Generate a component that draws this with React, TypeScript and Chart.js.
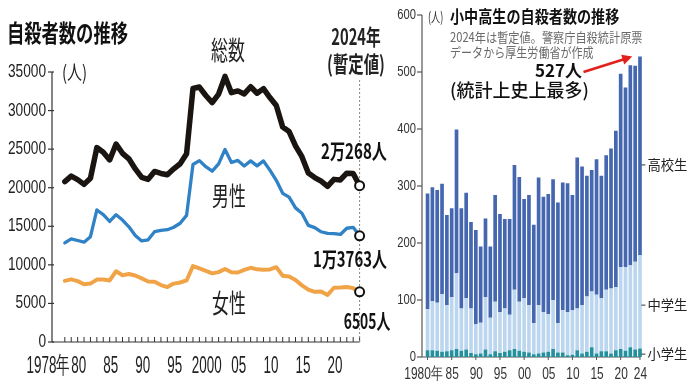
import React, { useEffect, useRef } from 'react';
import { Chart, registerables } from 'chart.js';
Chart.register(...registerables);

// ---------- Left chart data (自殺者数の推移) ----------
const YEARS_L = [1978,1979,1980,1981,1982,1983,1984,1985,1986,1987,1988,1989,1990,1991,1992,1993,1994,1995,1996,1997,1998,1999,2000,2001,2002,2003,2004,2005,2006,2007,2008,2009,2010,2011,2012,2013,2014,2015,2016,2017,2018,2019,2020,2021,2022,2023,2024];
const TOTAL = [20788,21503,21048,20434,21228,25202,24596,23599,25667,24460,23742,22436,21346,21084,22104,21851,21679,22445,23104,24391,32863,33048,31957,31042,32143,34427,32325,32552,32155,33093,32249,32845,31690,30651,27858,27283,25427,24025,21897,21321,20840,20169,21081,21007,21881,21837,20268];
const MALE = [12860,13380,13155,12940,13654,17116,16508,15624,16497,15802,14934,13818,13102,13242,14296,14468,14560,14874,15393,16416,23013,23512,22727,22144,23080,24963,23272,23540,22813,23478,22831,23472,22283,20955,19273,18787,17386,16681,15121,14826,14290,14078,14055,13939,14746,14862,13763];
const FEMALE = [7930,8120,7890,7490,7570,8090,8090,7980,9170,8660,8810,8620,8240,7840,7810,7380,7120,7570,7710,7980,9850,9540,9230,8900,9060,9460,9050,9010,9340,9620,9420,9370,9410,9700,8590,8500,8040,7340,6780,6500,6550,6090,7030,7070,7140,6980,6505];
const Y_TICKS_L = [0,5000,10000,15000,20000,25000,30000,35000];
const X_TICK_YEARS_L = [1978,1980,1985,1990,1995,2000,2005,2010,2015,2020];
const X_TICK_TEXT_L = ['1978年','80','85','90','95','2000','05','10','15','20'];

// ---------- Right chart data (小中高生の自殺者数の推移) ----------
const YEARS_R = [1980,1981,1982,1983,1984,1985,1986,1987,1988,1989,1990,1991,1992,1993,1994,1995,1996,1997,1998,1999,2000,2001,2002,2003,2004,2005,2006,2007,2008,2009,2010,2011,2012,2013,2014,2015,2016,2017,2018,2019,2020,2021,2022,2023,2024];
const ELEMENTARY = [12,12,11,9,10,12,14,11,13,7,5,6,13,5,10,7,9,12,14,11,9,8,5,6,8,9,14,8,8,3,4,12,6,9,17,6,10,10,6,12,14,11,17,13,15];
const JUNIOR = [72,86,84,101,81,93,133,74,90,78,53,54,92,64,87,72,76,62,104,86,94,83,54,85,71,66,86,51,74,76,78,73,85,97,98,103,93,108,114,111,144,147,144,154,164];
const HIGH = [203,200,198,194,158,156,252,176,185,152,165,134,138,125,187,172,157,168,219,219,174,193,173,224,202,211,212,212,224,226,202,265,243,212,213,238,215,236,246,274,339,315,351,344,348];
const Y_TICKS_R = [0,100,200,300,400,500,600];
const X_TICK_YEARS_R = [1980,1985,1990,1995,2000,2005,2010,2015,2020,2024];
const X_TICK_TEXT_R = ['1980年','85','90','95','00','05','10','15','20','24'];

const JP = '"Noto Sans CJK JP", "Noto Sans", sans-serif';
const NUM = '"Liberation Sans", "DejaVu Sans", sans-serif';

type TOpts = { weight?: string; color?: string; align?: CanvasTextAlign; sx?: number; family?: string };
function drawText(ctx: CanvasRenderingContext2D, s: string, x: number, y: number, size: number, o: TOpts = {}) {
  const { weight = 'normal', color = '#1a1a1a', align = 'left', sx = 1, family = JP } = o;
  ctx.save();
  ctx.font = `${weight} ${size}px ${family}`;
  ctx.fillStyle = color;
  ctx.textAlign = align;
  ctx.textBaseline = 'middle';
  ctx.translate(x, y);
  ctx.scale(sx, 1);
  ctx.fillText(s, 0, 0);
  ctx.restore();
}
function seg(ctx: CanvasRenderingContext2D, x1: number, y1: number, x2: number, y2: number) {
  ctx.beginPath();
  ctx.moveTo(x1, y1);
  ctx.lineTo(x2, y2);
  ctx.stroke();
}

const leftDecor = {
  id: 'leftDecor',
  beforeDatasetsDraw(chart: any) {
    const { ctx, chartArea: ca, scales } = chart;
    const x = scales.x, y = scales.y;
    ctx.save();
    ctx.strokeStyle = '#333';
    ctx.lineWidth = 1.2;
    const yTop = y.getPixelForValue(Y_TICKS_L[Y_TICKS_L.length - 1]);
    seg(ctx, ca.left, yTop, ca.left, ca.bottom);
    Y_TICKS_L.forEach((v) => {
      const py = y.getPixelForValue(v);
      seg(ctx, ca.left - 4, py, ca.left + 2, py);
      drawText(ctx, String(v), ca.left - 6, py, 18, { family: NUM, align: 'right', sx: 0.76, color: '#222' });
    });
    const xEnd = x.getPixelForValue(YEARS_L[YEARS_L.length - 1]);
    seg(ctx, ca.left, ca.bottom, xEnd, ca.bottom);
    ctx.lineWidth = 1;
    YEARS_L.forEach((yr) => {
      const px = x.getPixelForValue(yr);
      seg(ctx, px, ca.bottom, px, ca.bottom - 5);
    });
    X_TICK_YEARS_L.forEach((yr, i) => {
      const px = x.getPixelForValue(yr);
      if (i === 0) drawText(ctx, X_TICK_TEXT_L[i], px + 5, 366, 24, { family: NUM, align: 'right', sx: 0.56, color: '#222' });
      else drawText(ctx, X_TICK_TEXT_L[i], px + 1, 366, 24, { family: NUM, align: 'center', sx: 0.56, color: '#222' });
    });
    // dotted line at 2024
    ctx.strokeStyle = '#888';
    ctx.setLineDash([2, 2]);
    seg(ctx, xEnd, 80, xEnd, ca.bottom);
    ctx.setLineDash([]);
    ctx.restore();
  },
  afterDatasetsDraw(chart: any) {
    const { ctx } = chart;
    drawText(ctx, '自殺者数の推移', 7, 33, 24, { weight: 'bold', sx: 0.72, color: '#111' });
    drawText(ctx, '(人)', 62, 72, 20, { sx: 0.75, color: '#222' });
    drawText(ctx, '総数', 228, 50, 26, { align: 'center', sx: 0.65, color: '#222' });
    drawText(ctx, '2024年', 356, 37, 22, { align: 'center', sx: 0.67, weight: 'bold', color: '#222' });
    drawText(ctx, '(暫定値)', 356, 64, 22, { align: 'center', sx: 0.7, weight: 'bold', color: '#222' });
    drawText(ctx, '2万268人', 354, 151, 21, { align: 'center', sx: 0.72, weight: 'bold', color: '#111' });
    drawText(ctx, '男性', 229, 196, 26, { align: 'center', sx: 0.65, color: '#222' });
    drawText(ctx, '1万3763人', 350, 259, 21, { align: 'center', sx: 0.71, weight: 'bold', color: '#111' });
    drawText(ctx, '女性', 229, 303, 26, { align: 'center', sx: 0.65, color: '#222' });
    drawText(ctx, '6505人', 367, 321, 21, { align: 'center', sx: 0.66, weight: 'bold', color: '#111' });
  },
};

const rightDecor = {
  id: 'rightDecor',
  beforeDatasetsDraw(chart: any) {
    const { ctx, chartArea: ca, scales } = chart;
    const x = scales.x, y = scales.y;
    ctx.save();
    ctx.strokeStyle = '#555';
    ctx.lineWidth = 1.2;
    seg(ctx, ca.left, y.getPixelForValue(600), ca.left, ca.bottom);
    Y_TICKS_R.forEach((v) => {
      const py = y.getPixelForValue(v);
      seg(ctx, ca.left - 5, py, ca.left, py);
      drawText(ctx, String(v), ca.left - 6, py, 14, { family: NUM, align: 'right', sx: 0.8, color: '#333' });
    });
    ctx.lineWidth = 1;
    seg(ctx, ca.left, ca.bottom, ca.right - 2, ca.bottom);
    X_TICK_YEARS_R.forEach((yr, i) => {
      const px = x.getPixelForValue(yr);
      seg(ctx, px, ca.bottom, px, ca.bottom + 3);
      drawText(ctx, X_TICK_TEXT_R[i], i === 0 ? px - 4 : px + 0.5, 374, 17, { family: NUM, align: 'center', sx: 0.7, color: '#333' });
    });
    ctx.restore();
  },
  afterDatasetsDraw(chart: any) {
    const { ctx, chartArea: ca, scales } = chart;
    const x = scales.x, y = scales.y;
    drawText(ctx, '(人)', 38, 17, 14, { sx: 0.65, color: '#333' });
    drawText(ctx, '小中高生の自殺者数の推移', 60, 17, 17, { weight: 'bold', sx: 0.83, color: '#111' });
    drawText(ctx, '2024年は暫定値。警察庁自殺統計原票', 60, 37.5, 13, { sx: 0.86, color: '#6a6a6a' });
    drawText(ctx, 'データから厚生労働省が作成', 60, 52, 13, { sx: 0.85, color: '#6a6a6a' });
    drawText(ctx, '527人', 192, 71, 17, { weight: 'bold', align: 'right', color: '#111' });
    drawText(ctx, '(統計上史上最多)', 60, 90, 18, { weight: '500', color: '#111' });
    // red arrow
    const x0 = x.getPixelForValue(2012.3), y0 = y.getPixelForValue(500);
    const x1 = x.getPixelForValue(2022.4), y1 = y.getPixelForValue(527);
    const ang = Math.atan2(y1 - y0, x1 - x0);
    ctx.save();
    ctx.strokeStyle = '#e3211c';
    ctx.fillStyle = '#e3211c';
    ctx.lineWidth = 2.6;
    seg(ctx, x0, y0, x1 - 7 * Math.cos(ang), y1 - 7 * Math.sin(ang));
    ctx.beginPath();
    ctx.moveTo(x1, y1);
    ctx.lineTo(x1 - 10 * Math.cos(ang) + 5 * Math.sin(ang), y1 - 10 * Math.sin(ang) - 5 * Math.cos(ang));
    ctx.lineTo(x1 - 10 * Math.cos(ang) - 5 * Math.sin(ang), y1 - 10 * Math.sin(ang) + 5 * Math.cos(ang));
    ctx.closePath();
    ctx.fill();
    ctx.restore();
    // side labels
    const side: [string, number][] = [['高校生', 337], ['中学生', 91], ['小学生', 5]];
    ctx.save();
    ctx.strokeStyle = '#333';
    ctx.lineWidth = 1;
    side.forEach(([t, v]) => {
      const py = y.getPixelForValue(v);
      seg(ctx, ca.right - 1, py, ca.right + 3, py);
      drawText(ctx, t, ca.right + 5, py, 14, { sx: 0.95, color: '#222' });
    });
    ctx.restore();
  },
};

export default function App() {
  const leftRef = useRef<HTMLCanvasElement>(null);
  const rightRef = useRef<HTMLCanvasElement>(null);

  useEffect(() => {
    const pt = (xs: number[], ys: number[]) => xs.map((v, i) => ({ x: v, y: ys[i] }));
    const lastPoint = (c: any) => (c.dataIndex === c.dataset.data.length - 1 ? 4.5 : 0);
    const lineDs = (label: string, vals: number[], color: string, w: number) => ({
      label,
      data: pt(YEARS_L, vals),
      borderColor: color,
      borderWidth: w,
      borderJoinStyle: 'round' as const,
      borderCapStyle: 'round' as const,
      tension: 0,
      pointRadius: lastPoint,
      pointBackgroundColor: '#fff',
      pointBorderColor: '#111',
      pointBorderWidth: 2,
      clip: false as any,
    });

    const c1 = new Chart(leftRef.current!, {
      type: 'line',
      data: {
        datasets: [
          lineDs('女性', FEMALE, '#f1a447', 4),
          lineDs('男性', MALE, '#2f82c5', 3.3),
          lineDs('総数', TOTAL, '#1b1511', 5.5),
        ],
      },
      options: {
        responsive: false,
        devicePixelRatio: 1,
        animation: false,
        layout: { padding: { left: 52, top: 72, right: 24, bottom: 46 } },
        plugins: { legend: { display: false }, tooltip: { enabled: false } },
        scales: {
          x: { type: 'linear', min: 1976, max: 2025, display: false },
          y: { min: 0, max: 35000, display: false },
        },
      },
      plugins: [leftDecor],
    });

    const barDs = (label: string, vals: number[], color: string) => ({
      label,
      data: pt(YEARS_R, vals),
      backgroundColor: color,
      borderWidth: 0,
      barPercentage: 0.76,
      categoryPercentage: 1,
    });

    const c2 = new Chart(rightRef.current!, {
      type: 'bar',
      data: {
        datasets: [
          barDs('小学生', ELEMENTARY, '#23909e'),
          barDs('中学生', JUNIOR, '#bcd6ef'),
          barDs('高校生', HIGH, '#4467b0'),
        ],
      },
      options: {
        responsive: false,
        devicePixelRatio: 1,
        animation: false,
        layout: { padding: { left: 32, top: 15, right: 47.6, bottom: 31 } },
        plugins: { legend: { display: false }, tooltip: { enabled: false } },
        scales: {
          x: { type: 'linear', min: 1978.85, max: 2024.5, offset: false, stacked: true, display: false },
          y: { min: 0, max: 600, stacked: true, display: false },
        },
      },
      plugins: [rightDecor],
    });

    return () => {
      c1.destroy();
      c2.destroy();
    };
  }, []);

  return (
    <div style={{ position: 'fixed', left: 0, top: 0, width: 690, height: 388, background: '#fff', overflow: 'hidden' }}>
      <canvas ref={leftRef} width={390} height={388} style={{ position: 'absolute', left: 0, top: 0, width: 390, height: 388 }} />
      <canvas ref={rightRef} width={300} height={388} style={{ position: 'absolute', left: 390, top: 0, width: 300, height: 388 }} />
    </div>
  );
}
